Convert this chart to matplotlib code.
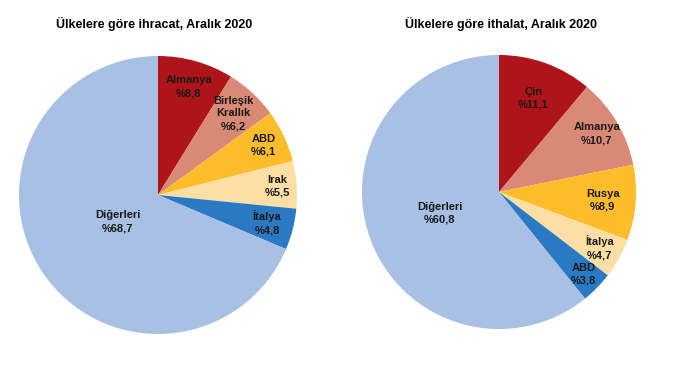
import matplotlib.pyplot as plt
import numpy as np

plt.rcParams['font.family'] = ['Liberation Sans', 'DejaVu Sans']

# ihracat (export)
exp_labels = ["Almanya", "Birleşik\nKrallık", "ABD", "Irak", "İtalya", "Diğerleri"]
exp_values = [8.8, 6.2, 6.1, 5.5, 4.8, 68.7]
exp_dist = [0.81, 0.80, 0.84, 0.86, 0.81, 0.35]

# ithalat (import)
imp_labels = ["Çin", "Almanya", "Rusya", "İtalya", "ABD", "Diğerleri"]
imp_values = [11.1, 10.7, 8.9, 4.7, 3.8, 60.8]
imp_dist = [0.73, 0.83, 0.76, 0.84, 0.86, 0.46]

exp_colors = ['#AE1419', '#D98A76', '#FDBD2A', '#FDDEA4', '#2A7AC3', '#A8C0E4']
imp_colors = ['#AE1419', '#D98A76', '#FDBD2A', '#FDDEA4', '#2A7AC3', '#A8C0E4']


def draw_pie(ax, labels, values, colors, dists):
    wedges, _ = ax.pie(values, colors=colors, startangle=90, counterclock=False,
                       wedgeprops=dict(linewidth=0))
    for w, lab, v, d in zip(wedges, labels, values, dists):
        ang = np.deg2rad((w.theta1 + w.theta2) / 2)
        txt = f"{lab}\n%{str(v).replace('.', ',')}"
        ax.text(d * np.cos(ang), d * np.sin(ang), txt, ha='center', va='center',
                fontsize=8, fontweight='bold', color='#1a1a1a', linespacing=1.35)
    ax.set_xlim(-1, 1)
    ax.set_ylim(-1, 1)
    ax.set_aspect('equal')


fig = plt.figure(figsize=(7, 3.73), dpi=100)
ax1 = fig.add_axes([19 / 700, 39 / 373, 278 / 700, 278 / 373])
ax2 = fig.add_axes([362 / 700, 44 / 373, 274 / 700, 274 / 373])

draw_pie(ax1, exp_labels, exp_values, exp_colors, exp_dist)
draw_pie(ax2, imp_labels, imp_values, imp_colors, imp_dist)

fig.text(154 / 700, 1 - 24 / 373, "Ülkelere göre ihracat, Aralık 2020",
         ha='center', va='center', fontsize=9, fontweight='bold')
fig.text(501 / 700, 1 - 24 / 373, "Ülkelere göre ithalat, Aralık 2020",
         ha='center', va='center', fontsize=9, fontweight='bold')

fig.savefig("out.png", dpi=100)
